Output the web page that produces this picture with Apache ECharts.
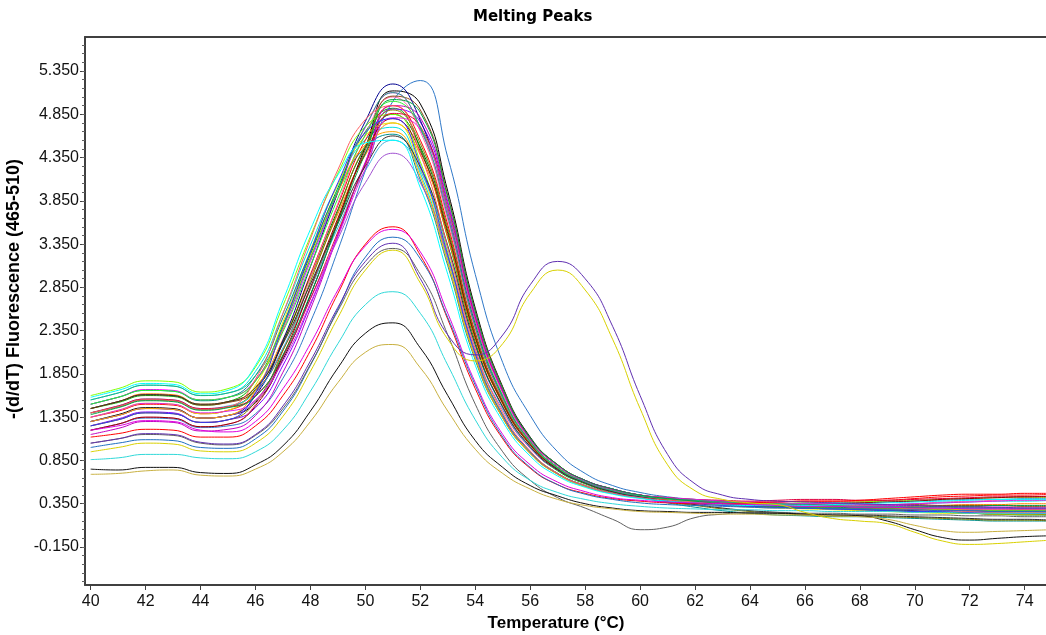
<!DOCTYPE html>
<html>
<head>
<meta charset="utf-8">
<script src="https://cdn.jsdelivr.net/npm/echarts/dist/echarts.min.js"></script>
<style>
html,body{margin:0;padding:0;background:#fff;}
#chart{width:1046px;height:635px;}
</style>
</head>
<body>
<div id="chart"></div>
<script>
// Temperatures (°C) at which each curve is sampled
const temps = [40,41,42,43,44,45,46,47,48,49,50,51,52,53,54,55,56,57,58,59,60,61,62,63,64,65,66,67,68,69,70,71,72,73,74,75];

// Axis tick positions
const xTicks = [40,42,44,46,48,50,52,54,56,58,60,62,64,66,68,70,72,74];
const yTicks = [-0.15,0.35,0.85,1.35,1.85,2.35,2.85,3.35,3.85,4.35,4.85,5.35];

// -(d/dT) fluorescence, main group of samples
const c01 = [1.55,1.63,1.72,1.71,1.60,1.63,1.88,2.55,3.34,4.04,4.56,4.70,4.17,3.16,2.05,1.35,0.94,0.70,0.56,0.47,0.42,0.39,0.36,0.34,0.33,0.33,0.32,0.32,0.33,0.34,0.35,0.36,0.37,0.38,0.38,0.39];
const c02 = [1.45,1.52,1.60,1.59,1.49,1.53,1.77,2.42,3.23,4.00,4.65,4.92,4.45,3.42,2.22,1.46,1.00,0.73,0.58,0.48,0.43,0.40,0.38,0.36,0.35,0.34,0.33,0.32,0.31,0.31,0.30,0.28,0.27,0.26,0.26,0.25];
const c03 = [1.50,1.58,1.67,1.66,1.55,1.58,1.78,2.36,3.15,3.95,4.70,5.10,4.69,3.67,2.39,1.57,1.06,0.76,0.60,0.50,0.44,0.41,0.39,0.37,0.36,0.35,0.35,0.34,0.34,0.33,0.33,0.32,0.32,0.31,0.31,0.31];
const c04 = [1.35,1.42,1.50,1.49,1.39,1.43,1.63,2.21,3.00,3.80,4.55,4.95,4.55,3.57,2.33,1.54,1.05,0.76,0.60,0.50,0.44,0.41,0.39,0.38,0.37,0.37,0.38,0.38,0.38,0.39,0.41,0.43,0.44,0.45,0.45,0.46];
const c05 = [1.30,1.38,1.46,1.45,1.34,1.37,1.52,2.02,2.76,3.61,4.47,5.12,4.97,3.96,2.61,1.70,1.12,0.80,0.62,0.52,0.45,0.41,0.38,0.36,0.34,0.33,0.31,0.30,0.29,0.28,0.27,0.25,0.24,0.23,0.23,0.22];
const c06 = [1.20,1.27,1.34,1.33,1.23,1.25,1.39,1.80,2.45,3.28,4.20,5.00,5.24,4.35,3.00,1.98,1.37,0.95,0.70,0.56,0.48,0.43,0.40,0.38,0.36,0.35,0.34,0.33,0.32,0.31,0.30,0.30,0.29,0.29,0.28,0.28];
const c07 = [1.45,1.53,1.62,1.61,1.50,1.53,1.70,2.25,2.96,3.70,4.38,4.75,4.38,3.43,2.25,1.50,1.03,0.75,0.59,0.49,0.43,0.40,0.37,0.35,0.34,0.32,0.31,0.30,0.30,0.31,0.32,0.33,0.34,0.34,0.35,0.35];
const c08 = [1.25,1.33,1.41,1.40,1.29,1.32,1.46,1.95,2.65,3.46,4.28,4.91,4.76,3.81,2.51,1.65,1.10,0.79,0.62,0.52,0.45,0.41,0.38,0.36,0.35,0.34,0.34,0.33,0.33,0.32,0.31,0.30,0.30,0.30,0.29,0.29];
const c09 = [1.40,1.47,1.55,1.54,1.44,1.47,1.67,2.22,2.98,3.75,4.47,4.85,4.47,3.50,2.29,1.52,1.04,0.75,0.60,0.50,0.44,0.40,0.37,0.35,0.33,0.31,0.30,0.29,0.28,0.27,0.26,0.25,0.24,0.23,0.22,0.22];
const c10 = [1.35,1.43,1.51,1.50,1.39,1.43,1.72,2.45,3.28,4.04,4.60,4.75,4.22,3.19,2.06,1.36,0.94,0.70,0.56,0.47,0.42,0.38,0.35,0.33,0.31,0.30,0.29,0.28,0.27,0.26,0.25,0.24,0.24,0.23,0.23,0.23];
const c11 = [1.20,1.27,1.35,1.34,1.24,1.27,1.50,2.12,2.97,3.82,4.62,5.05,4.65,3.63,2.37,1.56,1.06,0.76,0.60,0.50,0.44,0.40,0.38,0.36,0.35,0.34,0.33,0.33,0.33,0.34,0.35,0.37,0.38,0.39,0.40,0.40];
const c12 = [1.50,1.58,1.66,1.65,1.54,1.58,1.83,2.50,3.26,3.96,4.47,4.62,4.09,3.10,2.01,1.34,0.93,0.69,0.55,0.47,0.42,0.36,0.31,0.27,0.24,0.22,0.21,0.20,0.20,0.19,0.18,0.17,0.16,0.15,0.15,0.15];
const c13 = [1.45,1.53,1.61,1.60,1.49,1.52,1.66,2.13,2.83,3.63,4.44,5.06,4.90,3.91,2.58,1.69,1.11,0.80,0.62,0.52,0.45,0.42,0.39,0.37,0.36,0.35,0.35,0.34,0.34,0.34,0.34,0.33,0.33,0.33,0.32,0.32];
const c14 = [1.30,1.37,1.45,1.44,1.34,1.37,1.60,2.24,3.09,3.95,4.77,5.20,4.78,3.73,2.43,1.59,1.07,0.77,0.60,0.50,0.44,0.40,0.37,0.34,0.32,0.31,0.30,0.30,0.29,0.29,0.28,0.28,0.27,0.27,0.27,0.27];
const c15 = [1.60,1.68,1.77,1.76,1.64,1.68,1.93,2.64,3.44,4.17,4.71,4.85,4.30,3.25,2.10,1.38,0.95,0.70,0.56,0.47,0.42,0.39,0.37,0.36,0.35,0.35,0.36,0.36,0.37,0.38,0.39,0.40,0.41,0.42,0.42,0.42];
const c16 = [1.25,1.32,1.40,1.39,1.29,1.32,1.53,2.12,2.92,3.73,4.49,4.90,4.51,3.53,2.31,1.53,1.04,0.76,0.60,0.50,0.44,0.37,0.33,0.29,0.26,0.24,0.22,0.21,0.21,0.20,0.19,0.18,0.17,0.16,0.16,0.15];
const c17 = [1.15,1.22,1.30,1.29,1.19,1.21,1.37,1.87,2.60,3.45,4.30,4.95,4.81,3.84,2.53,1.66,1.10,0.79,0.62,0.52,0.45,0.41,0.38,0.36,0.34,0.33,0.32,0.31,0.31,0.30,0.29,0.28,0.27,0.26,0.26,0.25];
const c18 = [1.40,1.48,1.56,1.55,1.45,1.48,1.64,2.15,2.84,3.54,4.20,4.55,4.20,3.30,2.17,1.46,1.00,0.74,0.59,0.49,0.43,0.40,0.37,0.35,0.34,0.34,0.35,0.36,0.36,0.37,0.38,0.39,0.40,0.40,0.41,0.41];
const c19 = [1.30,1.37,1.45,1.44,1.34,1.37,1.54,2.04,2.72,3.41,4.06,4.40,4.06,3.20,2.11,1.43,0.99,0.74,0.59,0.49,0.43,0.39,0.36,0.34,0.32,0.31,0.30,0.29,0.29,0.28,0.28,0.27,0.27,0.26,0.26,0.26];
const c20 = [1.40,1.48,1.56,1.55,1.45,1.47,1.60,2.05,2.72,3.49,4.27,4.86,4.71,3.77,2.49,1.64,1.09,0.79,0.61,0.51,0.45,0.42,0.40,0.39,0.38,0.39,0.40,0.40,0.39,0.39,0.40,0.41,0.42,0.43,0.43,0.44];
const c21 = [1.50,1.58,1.66,1.65,1.55,1.58,1.77,2.34,3.10,3.88,4.61,5.00,4.70,3.75,2.45,1.60,1.07,0.77,0.60,0.50,0.44,0.40,0.37,0.35,0.33,0.32,0.31,0.30,0.30,0.29,0.29,0.28,0.28,0.27,0.27,0.27];
const c22 = [1.30,1.37,1.45,1.44,1.34,1.37,1.66,2.38,3.20,3.95,4.50,4.65,4.13,3.13,2.03,1.34,0.93,0.69,0.55,0.47,0.42,0.39,0.36,0.34,0.33,0.32,0.31,0.31,0.30,0.30,0.29,0.29,0.28,0.28,0.28,0.28];
const c23 = [1.20,1.27,1.35,1.34,1.24,1.27,1.48,2.06,2.85,3.65,4.40,4.80,4.42,3.47,2.27,1.51,1.03,0.75,0.59,0.49,0.43,0.39,0.36,0.34,0.33,0.33,0.34,0.35,0.36,0.37,0.38,0.40,0.41,0.42,0.43,0.43];
const c24 = [1.45,1.53,1.61,1.60,1.50,1.53,1.69,2.20,2.89,3.59,4.25,4.60,4.24,3.33,2.19,1.47,1.01,0.74,0.59,0.49,0.43,0.38,0.34,0.30,0.27,0.25,0.23,0.22,0.22,0.21,0.20,0.19,0.18,0.17,0.17,0.16];
const c25 = [1.35,1.43,1.51,1.50,1.40,1.42,1.55,2.00,2.67,3.44,4.22,4.81,4.67,3.73,2.47,1.63,1.09,0.79,0.61,0.51,0.45,0.42,0.40,0.38,0.37,0.36,0.35,0.35,0.34,0.34,0.35,0.36,0.37,0.38,0.39,0.39];
const c26 = [1.25,1.32,1.40,1.39,1.29,1.32,1.63,2.40,3.26,4.06,4.64,4.80,4.26,3.22,2.08,1.37,0.95,0.70,0.56,0.47,0.42,0.38,0.35,0.33,0.32,0.31,0.30,0.29,0.28,0.27,0.26,0.26,0.25,0.25,0.24,0.24];
const c27 = [1.55,1.63,1.72,1.71,1.60,1.63,1.83,2.40,3.18,3.97,4.71,5.10,4.69,3.67,2.39,1.57,1.06,0.76,0.60,0.50,0.44,0.41,0.39,0.37,0.36,0.35,0.34,0.33,0.32,0.32,0.31,0.31,0.30,0.30,0.30,0.30];
const c28 = [1.40,1.47,1.55,1.54,1.44,1.47,1.79,2.55,3.41,4.21,4.79,4.95,4.39,3.31,2.14,1.40,0.96,0.70,0.56,0.47,0.42,0.39,0.37,0.35,0.34,0.33,0.32,0.31,0.30,0.29,0.28,0.27,0.26,0.25,0.25,0.25];
const c29 = [1.38,1.46,1.54,1.53,1.43,1.46,1.59,2.07,2.77,3.59,4.40,5.02,4.87,3.89,2.57,1.68,1.11,0.80,0.62,0.52,0.45,0.41,0.38,0.35,0.33,0.32,0.31,0.31,0.30,0.30,0.31,0.32,0.32,0.33,0.33,0.33];
const c30 = [1.58,1.66,1.74,1.73,1.62,1.66,1.95,2.70,3.52,4.15,4.52,4.55,4.00,3.00,1.95,1.30,0.90,0.67,0.54,0.46,0.41,0.38,0.36,0.34,0.33,0.33,0.33,0.34,0.35,0.36,0.37,0.38,0.39,0.40,0.40,0.40];

// Low-amplitude samples
const lowRed     = [1.12,1.16,1.21,1.20,1.12,1.12,1.25,1.60,2.12,2.78,3.35,3.55,3.22,2.48,1.68,1.10,0.76,0.57,0.47,0.41,0.38,0.36,0.35,0.35,0.36,0.37,0.38,0.38,0.39,0.41,0.43,0.45,0.46,0.46,0.47,0.47];
const lowMagenta = [1.20,1.25,1.31,1.30,1.20,1.18,1.30,1.68,2.20,2.82,3.33,3.52,3.26,2.55,1.75,1.15,0.80,0.60,0.49,0.42,0.39,0.37,0.36,0.35,0.34,0.33,0.32,0.32,0.31,0.31,0.30,0.30,0.29,0.29,0.29,0.29];
const lowBlue    = [1.00,1.05,1.09,1.08,1.00,0.99,1.10,1.42,1.95,2.60,3.20,3.43,3.18,2.50,1.72,1.12,0.77,0.57,0.46,0.40,0.36,0.34,0.33,0.32,0.31,0.30,0.30,0.29,0.29,0.28,0.28,0.27,0.27,0.26,0.26,0.26];
const lowGray    = [1.05,1.10,1.15,1.14,1.05,1.03,1.14,1.45,1.96,2.58,3.10,3.30,3.00,2.30,1.50,0.95,0.62,0.42,0.30,0.17,0.05,0.08,0.19,0.23,0.25,0.25,0.24,0.24,0.23,0.23,0.22,0.22,0.21,0.21,0.20,0.20];
const lowCyan    = [0.86,0.88,0.92,0.92,0.88,0.87,0.95,1.20,1.65,2.20,2.65,2.80,2.55,1.95,1.32,0.88,0.62,0.48,0.40,0.35,0.32,0.30,0.29,0.28,0.28,0.27,0.27,0.26,0.26,0.26,0.25,0.25,0.24,0.24,0.24,0.24];
const lowBlack   = [0.75,0.74,0.77,0.77,0.71,0.70,0.80,1.02,1.42,1.92,2.32,2.44,2.15,1.60,1.08,0.77,0.56,0.44,0.35,0.30,0.27,0.26,0.25,0.25,0.24,0.24,0.23,0.22,0.21,0.15,0.05,-0.04,-0.07,-0.05,-0.03,-0.02];
const lowKhaki   = [0.69,0.70,0.73,0.74,0.68,0.67,0.75,0.95,1.30,1.75,2.10,2.19,1.92,1.42,0.98,0.70,0.52,0.40,0.33,0.29,0.26,0.25,0.24,0.23,0.23,0.22,0.22,0.21,0.20,0.17,0.10,0.04,0.02,0.03,0.04,0.05];

// Two samples with a second melting peak near 57 °C
const twoPeakPurple = [1.05,1.10,1.16,1.15,1.06,1.04,1.15,1.48,2.00,2.62,3.15,3.36,2.95,2.30,2.07,2.30,2.88,3.15,2.95,2.40,1.60,0.92,0.58,0.45,0.40,0.38,0.37,0.36,0.35,0.34,0.33,0.32,0.31,0.31,0.30,0.30];
const twoPeakYellow = [0.95,1.00,1.05,1.04,0.96,0.95,1.05,1.36,1.88,2.50,3.05,3.28,2.90,2.25,2.00,2.20,2.78,3.05,2.82,2.25,1.45,0.80,0.50,0.40,0.36,0.34,0.25,0.18,0.15,0.12,0.02,-0.08,-0.12,-0.11,-0.09,-0.07];

const curves = [c01,c02,c03,c04,c05,c06,c07,c08,c09,c10,c11,c12,c13,c14,c15,c16,c17,c18,c19,c20,c21,c22,c23,c24,c25,c26,c27,c28,c29,c30,
  lowRed,lowMagenta,lowBlue,lowGray,lowCyan,lowBlack,lowKhaki,twoPeakPurple,twoPeakYellow];
const colors = ['#00e0e0','#00b000','#ff00ff','#ff0000','#000000','#2f78c8','#ff8000','#8000ff','#007000','#e8e800',
  '#ff5fa8','#009090','#8b4513','#000090','#80ff00','#808000','#c000c0','#40b0e0','#a050d0','#e00040',
  '#30f030','#ffa500','#900000','#303030','#e020e0','#3030ff','#20b080','#ff6060','#00a040','#00ffff',
  '#ff0000','#e000e0','#2070c0','#606060','#30d8d8','#101010','#c8b040','#6030b0','#d8d000'];

const minorTicks = [];
for (let v = -0.55; v <= 5.75; v += 0.1) minorTicks.push(Math.round(v * 100) / 100);

const series = curves.map((vals, i) => ({
  type: 'line',
  data: temps.map((t, j) => [t, vals[j]]),
  smooth: 0.5,
  symbol: 'none',
  xAxisIndex: 0,
  yAxisIndex: 0,
  lineStyle: { width: 1, color: colors[i] },
  itemStyle: { color: colors[i] },
  silent: true
}));

const font = 'Liberation Sans, Arial, sans-serif';
const X_MIN = 39.793, X_MAX = 74.776, Y_MIN = -0.589, Y_MAX = 5.743;
const chart = echarts.init(document.getElementById('chart'), null, { renderer: 'canvas' });
chart.setOption({
  animation: false,
  backgroundColor: '#ffffff',
  title: {
    text: 'Melting Peaks',
    left: 468, top: 5,
    textStyle: { fontFamily: 'DejaVu Sans', fontWeight: 'bold', fontSize: 15, color: '#000' }
  },
  grid: { left: 85, top: 37, width: 961, height: 548, show: false, outerBoundsMode: 'none', containLabel: false },
  xAxis: [{
    type: 'value', min: X_MIN, max: X_MAX,
    name: 'Temperature (°C)', nameLocation: 'middle', nameGap: 27,
    nameTextStyle: { fontFamily: font, fontWeight: 'bold', fontSize: 17, color: '#000', padding: [0, 19, 0, 0] },
    axisLine: { show: true, onZero: false, lineStyle: { color: '#404040', width: 2 } },
    axisTick: { show: true, inside: false, length: 5, customValues: xTicks, lineStyle: { color: '#404040' } },
    axisLabel: { customValues: xTicks, fontFamily: font, fontSize: 16, color: '#111', margin: 9 },
    splitLine: { show: false }
  }, {
    type: 'value', min: X_MIN, max: X_MAX, position: 'top',
    axisLine: { show: true, onZero: false, lineStyle: { color: '#404040', width: 2 } },
    axisTick: { show: false }, axisLabel: { show: false }, splitLine: { show: false }
  }],
  yAxis: [{
    type: 'value', min: Y_MIN, max: Y_MAX,
    name: '-(d/dT) Fluorescence (465-510)', nameLocation: 'middle', nameGap: 56, nameRotate: 90,
    nameTextStyle: { fontFamily: font, fontWeight: 'bold', fontSize: 18, color: '#000', padding: [0, 0, 0, 44] },
    axisLine: { show: true, onZero: false, lineStyle: { color: '#404040', width: 2 } },
    axisTick: { show: true, inside: false, length: 5, customValues: yTicks, lineStyle: { color: '#404040' } },
    axisLabel: { customValues: yTicks, formatter: v => v.toFixed(3), fontFamily: font, fontSize: 16, color: '#111', margin: 6 },
    splitLine: { show: false }
  }, {
    type: 'value', min: Y_MIN, max: Y_MAX, position: 'left',
    axisLine: { show: false },
    axisTick: { show: true, inside: false, length: 3, customValues: minorTicks, lineStyle: { color: '#606060' } },
    axisLabel: { show: false },
    splitLine: { show: false }
  }],
  series: series
});
</script>
</body>
</html>
